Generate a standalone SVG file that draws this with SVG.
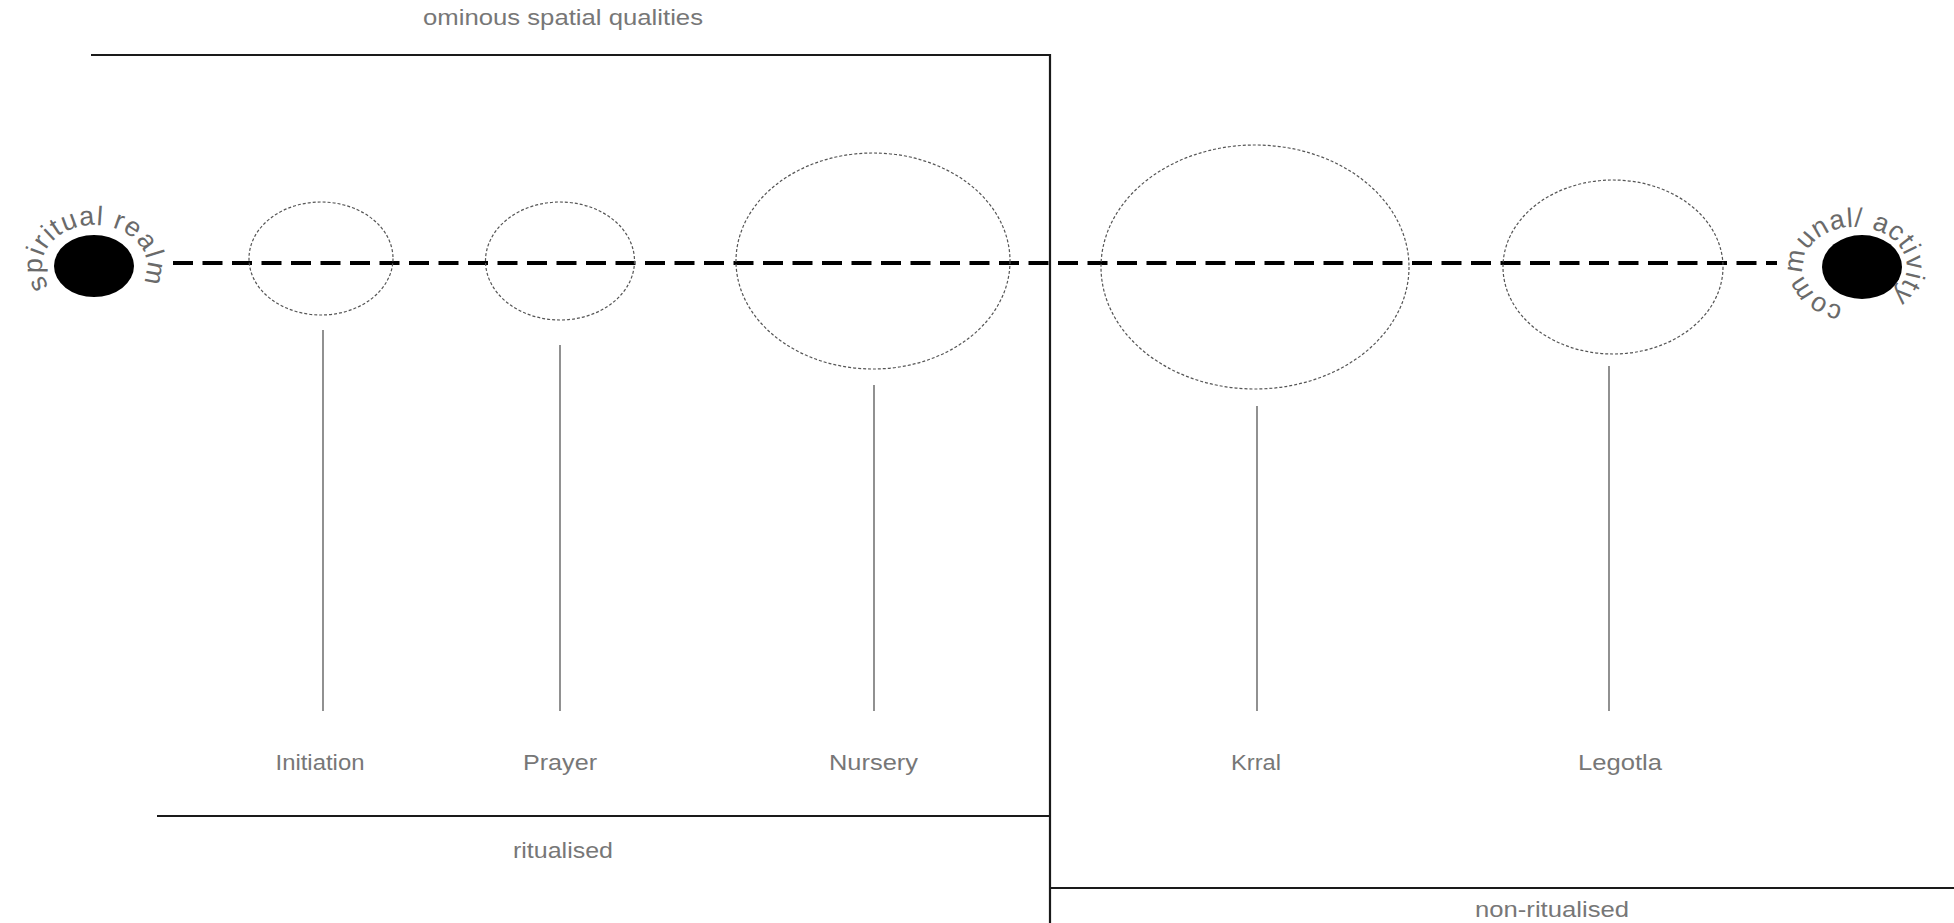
<svg xmlns="http://www.w3.org/2000/svg" width="1954" height="923" viewBox="0 0 1954 923">
<style>
.frame{stroke:#1a1a1a;stroke-width:2.2;fill:none}
.zone{fill:none;stroke:#555;stroke-width:1.2;stroke-dasharray:3 2}
.stem{stroke:#555;stroke-width:1.3}
.lbl{font-family:"Liberation Sans",Arial,sans-serif;font-size:22px;fill:#777;text-anchor:middle}
.arc{font-family:"Liberation Sans",Arial,sans-serif;font-size:27px;fill:#6a6a6a}
.axis{stroke:#000;stroke-width:4;stroke-dasharray:20 9.5;fill:none}
</style>
<defs>
<path id="arcL" d="M 49,286.5 A 52.5 41 0 1 1 143.8,280"/>
<path id="arcR" d="M 1842.7,305.8 A 52 40 0 1 1 1893,294"/>
</defs>
<rect width="1954" height="923" fill="#fff"/>
<g id="frames">
<polyline class="frame" points="91,55 1050,55 1050,923"/>
<line class="frame" x1="157" y1="816" x2="1050" y2="816"/>
<line class="frame" x1="1050" y1="888" x2="1954" y2="888"/>
<text class="lbl" x="563" y="25" textLength="280" lengthAdjust="spacingAndGlyphs">ominous spatial qualities</text>
<text class="lbl" x="563" y="858" textLength="100" lengthAdjust="spacingAndGlyphs">ritualised</text>
<text class="lbl" x="1552" y="917" textLength="154" lengthAdjust="spacingAndGlyphs">non-ritualised</text>
</g>
<g id="connectors">
<line class="axis" x1="173" y1="263" x2="1777" y2="263"/>
<line class="stem" x1="323" y1="330" x2="323" y2="711"/>
<line class="stem" x1="560" y1="345" x2="560" y2="711"/>
<line class="stem" x1="874" y1="385" x2="874" y2="711"/>
<line class="stem" x1="1257" y1="406" x2="1257" y2="711"/>
<line class="stem" x1="1609" y1="366" x2="1609" y2="711"/>
</g>
<g id="spiritual-realm">
<ellipse cx="94" cy="266" rx="40" ry="31" fill="#000"/>
<text class="arc"><textPath href="#arcL" textLength="186">spiritual realm</textPath></text>
</g>
<g id="communal-activity">
<ellipse cx="1862" cy="267" rx="40" ry="32" fill="#000"/>
<text class="arc"><textPath href="#arcR" textLength="238">communal/ activity</textPath></text>
</g>
<g id="initiation">
<ellipse class="zone" cx="321" cy="258.5" rx="72" ry="56.5"/>
<text class="lbl" x="320" y="770" textLength="89" lengthAdjust="spacingAndGlyphs">Initiation</text>
</g>
<g id="prayer">
<ellipse class="zone" cx="560" cy="261" rx="74.5" ry="59"/>
<text class="lbl" x="560" y="770" textLength="74" lengthAdjust="spacingAndGlyphs">Prayer</text>
</g>
<g id="nursery">
<ellipse class="zone" cx="873" cy="261" rx="137" ry="108"/>
<text class="lbl" x="873.5" y="770" textLength="89" lengthAdjust="spacingAndGlyphs">Nursery</text>
</g>
<g id="krral">
<ellipse class="zone" cx="1255" cy="267" rx="154" ry="122"/>
<text class="lbl" x="1256" y="770" textLength="50" lengthAdjust="spacingAndGlyphs">Krral</text>
</g>
<g id="legotla">
<ellipse class="zone" cx="1613" cy="267" rx="110" ry="87"/>
<text class="lbl" x="1620" y="770" textLength="84" lengthAdjust="spacingAndGlyphs">Legotla</text>
</g>
</svg>
